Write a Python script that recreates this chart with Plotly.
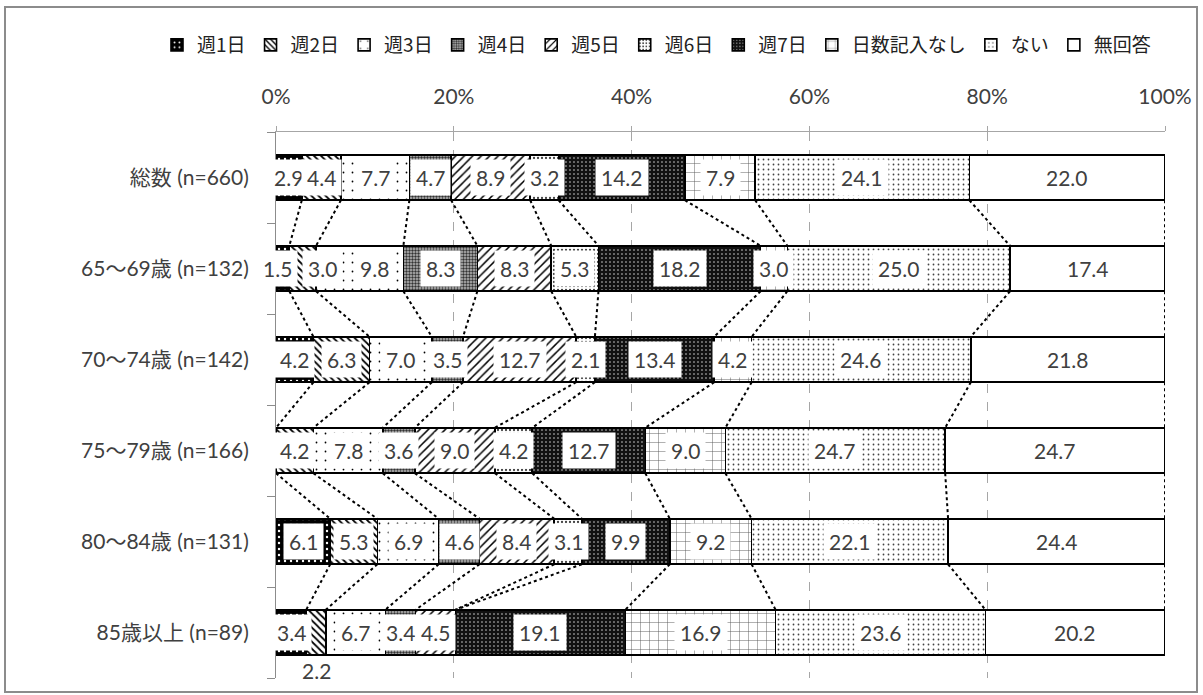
import numpy as np
import plotly.graph_objects as go

# ---------------- data ----------------
categories = ["総数 (n=660)", "65～69歳 (n=132)", "70～74歳 (n=142)",
              "75～79歳 (n=166)", "80～84歳 (n=131)", "85歳以上 (n=89)"]
series_names = ["週1日", "週2日", "週3日", "週4日", "週5日", "週6日", "週7日",
                "日数記入なし", "ない", "無回答"]
week1 = [2.9, 1.5, 4.2, 0.0, 6.1, 3.4]
week2 = [4.4, 3.0, 6.3, 4.2, 5.3, 2.2]
week3 = [7.7, 9.8, 7.0, 7.8, 6.9, 6.7]
week4 = [4.7, 8.3, 3.5, 3.6, 4.6, 3.4]
week5 = [8.9, 8.3, 12.7, 9.0, 8.4, 4.5]
week6 = [3.2, 5.3, 2.1, 4.2, 3.1, 0.0]
week7 = [14.2, 18.2, 13.4, 12.7, 9.9, 19.1]
no_days = [7.9, 3.0, 4.2, 9.0, 9.2, 16.9]
nai = [24.1, 25.0, 24.6, 24.7, 22.1, 23.6]
no_answer = [22.0, 17.4, 21.8, 24.7, 24.4, 20.2]
x_ticks = [0, 20, 40, 60, 80, 100]

series_values = [week1, week2, week3, week4, week5, week6, week7,
                 no_days, nai, no_answer]

# ---------------- label placement tweaks (style) ----------------
labels_below = {("85歳以上 (n=89)", "週2日")}
label_xshift = {("65～69歳 (n=132)", "週1日"): -5,
                ("65～69歳 (n=132)", "週2日"): 20,
                ("65～69歳 (n=132)", "週3日"): 15}

# ---------------- styles ----------------
patterns = [
    dict(shape=".", fgcolor="white", bgcolor="black", size=6, solidity=0.12),
    dict(shape="\\", fgcolor="black", bgcolor="white", size=5, solidity=0.35),
    dict(shape=".", fgcolor="black", bgcolor="white", size=9, solidity=0.03),
    dict(shape=".", fgcolor="#333333", bgcolor="#bbbbbb", size=3, solidity=0.5),
    dict(shape="/", fgcolor="black", bgcolor="white", size=6, solidity=0.25),
    dict(shape=".", fgcolor="#444444", bgcolor="white", size=4, solidity=0.25),
    dict(shape=".", fgcolor="#dddddd", bgcolor="#111111", size=4, solidity=0.12),
    dict(shape="+", fgcolor="#555555", bgcolor="white", size=9, solidity=0.1),
    dict(shape=".", fgcolor="#444444", bgcolor="white", size=5, solidity=0.1),
    dict(shape="", fgcolor="black", bgcolor="white", size=8, solidity=0.2),
]

W, H = 1203, 695
ML, MR, MT, MB = 276, 38, 132, 17
PW, PH = W - ML - MR, H - MT - MB
BAR_W = 0.5
TEXT_COLOR = "#404040"
NUM_FONT = "Lato, Noto Sans CJK JP, sans-serif"

vals = np.array(series_values, dtype=float)          # (series, rows)
shares = vals / vals.sum(axis=0, keepdims=True) * 100
cum = np.cumsum(shares, axis=0)
starts = cum - shares
rows = list(range(len(categories)))

fig = go.Figure()

# series (connector) lines
lx, ly = [], []
for i in range(len(series_names)):
    for r in rows[:-1]:
        lx += [cum[i, r], cum[i, r + 1], None]
        ly += [r + BAR_W / 2, r + 1 - BAR_W / 2, None]
fig.add_trace(go.Scatter(x=lx, y=ly, mode="lines", showlegend=False,
                         hoverinfo="skip",
                         line=dict(color="black", width=2, dash="dot")))

for i, name in enumerate(series_names):
    pat = dict(patterns[i])
    pat["fillmode"] = "replace"
    fig.add_trace(go.Bar(
        name=name, y=rows, x=series_values[i], orientation="h", width=BAR_W,
        marker=dict(color=pat["bgcolor"], pattern=pat,
                    line=dict(color="black", width=1.6)),
    ))

annotations = []
for i, name in enumerate(series_names):
    for r, cat in enumerate(categories):
        v = series_values[i][r]
        if v <= 0:
            continue
        cx = starts[i, r] + shares[i, r] / 2
        font = dict(family=NUM_FONT, size=21, color=TEXT_COLOR)
        if (cat, name) in labels_below:
            annotations.append(dict(x=cx, y=r + BAR_W / 2, xref="x", yref="y",
                                    text=f"{v:.1f}", showarrow=False,
                                    yanchor="top", yshift=-1, font=font))
        else:
            annotations.append(dict(x=cx, y=r, xref="x", yref="y",
                                    text=f"{v:.1f}", showarrow=False,
                                    xshift=label_xshift.get((cat, name), 0),
                                    bgcolor="white", borderpad=5, font=font))

# outer chart border
shapes = [dict(type="rect", xref="paper", yref="paper",
               x0=(5 - ML) / PW, x1=(1197 - ML) / PW,
               y0=-(692 - MT - PH) / PH, y1=1 + (MT - 7) / PH,
               line=dict(color="#8c8c8c", width=2), layer="below")]

fig.update_layout(
    width=W, height=H,
    margin=dict(l=ML, r=MR, t=MT, b=MB),
    barmode="stack", barnorm="percent",
    plot_bgcolor="white", paper_bgcolor="white",
    annotations=annotations, shapes=shapes,
    legend=dict(orientation="h", x=(157 - ML) / PW, xanchor="left",
                y=1 + (MT - 45) / PH, yanchor="middle",
                font=dict(family="Noto Sans CJK JP", size=19, color="#222222"),
                traceorder="normal", itemwidth=30),
    xaxis=dict(side="top", range=[0, 100], tickvals=x_ticks,
               ticktext=[f"{t}%" for t in x_ticks],
               showgrid=True, gridcolor="#a6a6a6", griddash="dash", gridwidth=1,
               showline=True, linecolor="#a6a6a6", linewidth=1,
               ticks="outside", ticklen=5, tickcolor="#a6a6a6",
               ticklabelstandoff=14, zeroline=False,
               tickfont=dict(family=NUM_FONT, size=21, color=TEXT_COLOR)),
    yaxis=dict(range=[len(categories) - 0.5, -0.5], tickvals=rows,
               ticktext=categories, ticks="", showgrid=False, zeroline=False,
               showline=True, linecolor="#8c8c8c", linewidth=1,
               ticklabelstandoff=22,
               minor=dict(tickvals=[r - 0.5 for r in rows] + [rows[-1] + 0.5],
                          ticks="outside", ticklen=8, tickcolor="#8c8c8c"),
               tickfont=dict(family=NUM_FONT, size=21, color=TEXT_COLOR)),
)

fig.write_html("out.html", config={"displayModeBar": False},
               post_script="document.body.style.margin='0';")
